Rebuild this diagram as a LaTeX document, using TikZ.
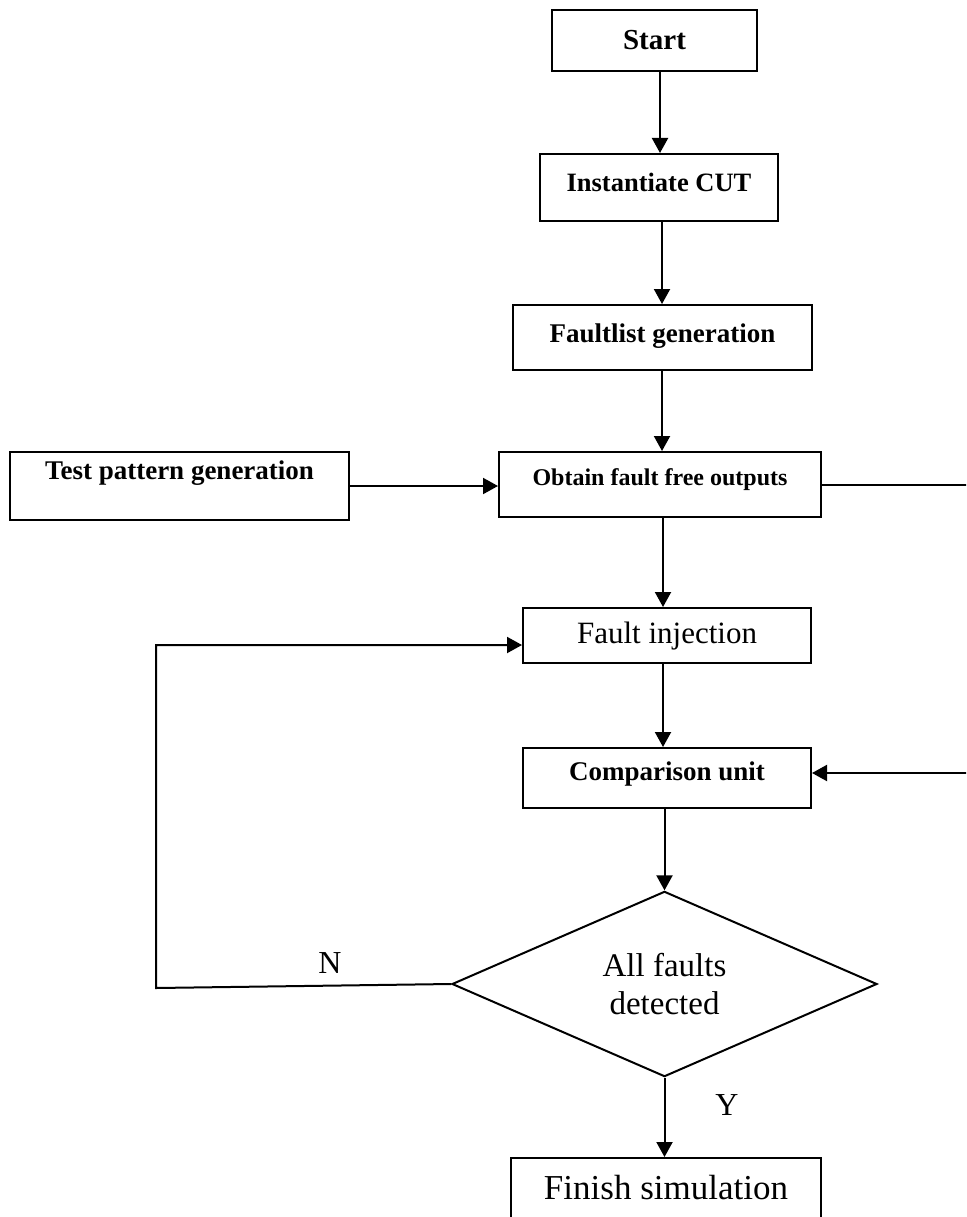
\documentclass[tikz,border=0pt]{standalone}
\usepackage{fontspec}
\setmainfont{Liberation Serif}
\usetikzlibrary{arrows.meta,shapes.geometric}
\tikzset{
  box/.style={draw=black, line width=2pt, fill=white, inner sep=0pt, align=center},
  tr/.style 2 args={font=\fontsize{#1}{#1}\selectfont, text height={0.75*#1pt}, text depth={0.25*#1pt+2*#2pt}},
  tb/.style 2 args={font=\fontsize{#1}{#1}\selectfont\bfseries, text height={0.75*#1pt}, text depth={0.25*#1pt+2*#2pt}},
  dec/.style={draw=black, line width=2pt, shape=diamond, inner sep=0pt, align=center, font=\fontsize{33}{33}\selectfont},
  conn/.style={line width=2pt, -{Triangle[length=15pt,width=16pt]}},
  lbl/.style={inner sep=0pt, font=\fontsize{32}{32}\selectfont}
}
\begin{document}
\begin{tikzpicture}[x=1pt,y=-1pt]
\clip (0,0) rectangle (966,1217);
\fill[white] (0,0) rectangle (966,1217);

\node[box, tb={29}{-2}, minimum width=205pt, minimum height=61pt] (start) at (654.5,40.5) {Start};
\node[box, tb={26.5}{3}, minimum width=238pt, minimum height=67pt] (inst) at (659,187.5) {Instantiate CUT};
\node[box, tb={27}{2}, minimum width=299pt, minimum height=65pt] (flist) at (662.5,337.5) {Faultlist generation};
\node[box, tb={24}{5.5}, minimum width=322pt, minimum height=65pt] (obtain) at (660,484.5) {Obtain fault free outputs};
\node[box, tb={27}{13.5}, minimum width=339pt, minimum height=68pt] (test) at (179.5,486) {Test pattern generation};
\node[box, tr={31}{0}, minimum width=288pt, minimum height=55pt] (finj) at (667,635.5) {Fault injection};
\node[box, tb={27}{4}, minimum width=288pt, minimum height=60pt] (comp) at (667,778) {Comparison unit};
\node[dec, minimum width=425pt, minimum height=182pt] (dec) at (664.5,984) {All faults\\[5pt]detected};
\node[box, tr={35}{6}, minimum width=310pt, minimum height=77pt] (finish) at (666,1196.5) {Finish simulation};

\coordinate (a1) at (660,0);
\coordinate (a2) at (662,0);
\coordinate (a3) at (663,0);
\coordinate (r1) at (980,484.5);
\coordinate (r2) at (980,773);
\coordinate (l1) at (156,988);
\coordinate (l2) at (156,645);

\draw[conn] (start.south -| a1) -- (inst.north -| a1);
\draw[conn] (inst.south -| a2) -- (flist.north -| a2);
\draw[conn] (flist.south -| a2) -- (obtain.north -| a2);
\draw[conn] (obtain.south -| a3) -- (finj.north -| a3);
\draw[conn] (finj.south -| a3) -- (comp.north -| a3);
\draw[conn] (comp.south -| dec.north) -- (dec.north);
\draw[conn] (dec.south) -- (finish.north -| dec.south);
\draw[conn] (test.east) -- (obtain.west |- test.east);
\draw[conn] (obtain.east) -- (r1) -- (r2) -- (comp.east |- r2);
\draw[conn] (dec.west) -- (l1) -- (l2) -- (finj.west |- l2);

\node[lbl] (nlab) at (330,963) {N};
\node[lbl] (ylab) at (727,1105) {Y};
\end{tikzpicture}
\end{document}
